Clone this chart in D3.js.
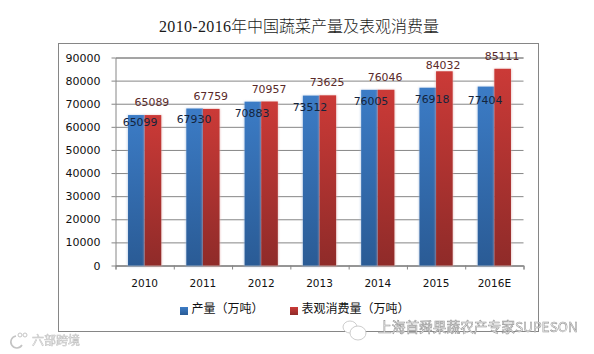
<!DOCTYPE html>
<html><head><meta charset="utf-8">
<script src="https://cdnjs.cloudflare.com/ajax/libs/d3/7.8.5/d3.min.js"></script>
<style>html,body{margin:0;padding:0;background:#fff}svg{display:block}</style>
</head><body><svg id="c" width="594" height="354"></svg>
<script>
const categories = ["2010","2011","2012","2013","2014","2015","2016E"];
const production = [65099,67930,70883,73512,76005,76918,77404];
const consumption = [65089,67759,70957,73625,76046,84032,85111];
const yTicks = [0,10000,20000,30000,40000,50000,60000,70000,80000,90000];
const seriesNames = ["产量（万吨）","表观消费量（万吨）"];
const titleLatin = "2010-2016";
const titleCjk = "年中国蔬菜产量及表观消费量";
// label nudges relative to each bar's centre and top
const prodDx = [3.7,-0.6,-0.9,-1.2,1.5,4.3,-1];
const prodDy = [11,14.5,15.3,15.4,15.2,15.3,17.4];
const consDx = [-1,-0.5,-0.5,-0.8,-1,-1.3,-0.6];
const consDy = [-9,-9,-8.5,-9.3,-8.8,-2.3,-8.8];

const svg = d3.select("#c");
const L=115.5,R=523.5,T=57.5,B=265.5;
const x = d3.scaleBand().domain(categories).range([L,R]).paddingInner(0.43).paddingOuter(0.215);
const y = d3.scaleLinear().domain([0,90000]).range([B,T]);
const sub = d3.scaleBand().domain([0,1]).range([0,x.bandwidth()]);
const grey="#868686";
const sans="'DejaVu Sans',sans-serif", cjk="'Noto Sans CJK SC','Noto Sans',sans-serif";

const defs = svg.append("defs");
function grad(id,a,b){const g=defs.append("linearGradient").attr("id",id).attr("x1",0).attr("y1",0).attr("x2",0).attr("y2",1);
 g.append("stop").attr("offset",0).attr("stop-color",a);g.append("stop").attr("offset",1).attr("stop-color",b);}
grad("gb","#3c7cc6","#2a5b95");grad("gr","#cb3a37","#8f2b29");
const bl=defs.append("filter").attr("id","sh").attr("x","-20%").attr("y","-5%").attr("width","140%").attr("height","110%");
bl.append("feGaussianBlur").attr("stdDeviation",1);
const wb=defs.append("filter").attr("id","wm");wb.append("feGaussianBlur").attr("stdDeviation",0.35);

svg.append("rect").attr("x",58.5).attr("y",43.5).attr("width",480).attr("height",288).attr("fill","#fff").attr("stroke",grey);

svg.append("text").attr("x",159).attr("y",32).attr("fill","#1a1a1a").attr("font-size",16)
 .attr("font-family","'Liberation Serif',serif").attr("textLength",72).attr("lengthAdjust","spacing").text(titleLatin);
svg.append("text").attr("x",231).attr("y",32).attr("fill","#1a1a1a").attr("font-size",16)
 .attr("font-family",cjk).attr("font-weight",300).text(titleCjk);

const gy=svg.append("g").attr("transform",`translate(${L},0)`)
 .call(d3.axisLeft(y).tickValues(yTicks).tickSize(-(R-L)).tickFormat(d3.format("d")).tickPadding(15));
gy.selectAll("line").attr("stroke",grey);
gy.select(".domain").attr("stroke",grey);
gy.selectAll("text").attr("font-family",sans).attr("font-size",11).attr("fill","#111");
const gy2=svg.append("g").attr("transform",`translate(${L},0)`)
 .call(d3.axisLeft(y).tickValues(yTicks).tickSize(4).tickFormat(""));
gy2.selectAll("line").attr("stroke",grey);gy2.select(".domain").remove();

const gx=svg.append("g").attr("transform",`translate(0,${B})`)
 .call(d3.axisBottom(d3.scalePoint().domain(d3.range(8)).range([L,R])).tickSize(4).tickFormat(""));
gx.selectAll("line").attr("stroke",grey);gx.select(".domain").attr("stroke",grey);
svg.append("g").selectAll("text").data(categories).join("text")
 .attr("x",d=>x(d)+x.bandwidth()/2).attr("y",287).attr("text-anchor","middle")
 .attr("font-family",sans).attr("font-size",10.5).attr("fill","#111").text(d=>d);

[[production,"gb","#9db8dc",0],[consumption,"gr","#e0aaa8",1]].forEach(([vals,g,sc,i])=>{
 const gg=svg.append("g");
 gg.selectAll("rect.s").data(vals).join("rect").attr("class","s").attr("filter","url(#sh)").attr("fill",sc).attr("opacity",.7)
  .attr("x",(d,j)=>x(categories[j])+sub(i)-.5).attr("y",d=>y(d)).attr("width",sub.bandwidth()+1).attr("height",d=>B-y(d)+1);
 gg.selectAll("rect.b").data(vals).join("rect").attr("class","b").attr("fill",`url(#${g})`)
  .attr("x",(d,j)=>x(categories[j])+sub(i)).attr("y",d=>y(d)).attr("width",sub.bandwidth()).attr("height",d=>B-y(d));
});

svg.append("g").selectAll("text").data(production).join("text")
 .attr("x",(d,j)=>x(categories[j])+sub(0)+sub.bandwidth()/2+prodDx[j]).attr("y",(d,j)=>y(d)+prodDy[j])
 .attr("text-anchor","middle").attr("font-family",sans).attr("font-size",10.9).attr("fill","#14243c").text(d=>d);
svg.append("g").selectAll("text").data(consumption).join("text")
 .attr("x",(d,j)=>x(categories[j])+sub(1)+sub.bandwidth()/2+consDx[j]).attr("y",(d,j)=>y(d)+consDy[j])
 .attr("text-anchor","middle").attr("font-family",sans).attr("font-size",10.9).attr("fill","#5a2a2a").text(d=>d);

const legX=[180,290];
seriesNames.forEach((n,i)=>{
 svg.append("rect").attr("x",legX[i]).attr("y",307).attr("width",8).attr("height",8).attr("fill",i?"url(#gr)":"url(#gb)");
 svg.append("text").attr("x",legX[i]+11.5).attr("y",313).attr("font-family",cjk).attr("font-size",12).attr("fill","#111").text(n);
});

const wm=svg.append("g").attr("filter","url(#wm)");
wm.append("text").attr("x",32).attr("y",345).attr("font-family",cjk).attr("font-size",12).attr("fill","#fff").attr("stroke","#c4c4c4").attr("stroke-width",.6).text("六部跨境");
wm.append("path").attr("d","M16 336 A6 6 0 1 0 22 345").attr("fill","none").attr("stroke","#c4c4c4").attr("stroke-width",1.6);
wm.append("circle").attr("cx",20).attr("cy",335).attr("r",2).attr("fill","none").attr("stroke","#c4c4c4");
wm.append("circle").attr("cx",25).attr("cy",335).attr("r",2).attr("fill","none").attr("stroke","#c4c4c4");
wm.append("text").attr("x",378).attr("y",332).attr("font-family",cjk).attr("font-size",13.7).attr("fill","#fff").attr("stroke","#999").attr("stroke-width",.6).text("上海首舜果蔬农产专家SUPESON");
wm.append("ellipse").attr("cx",350).attr("cy",327).attr("rx",7).attr("ry",6).attr("fill","#fff").attr("stroke","#ccc");
wm.append("ellipse").attr("cx",358).attr("cy",333).attr("rx",8).attr("ry",7).attr("fill","#fff").attr("stroke","#ccc");
</script></body></html>
